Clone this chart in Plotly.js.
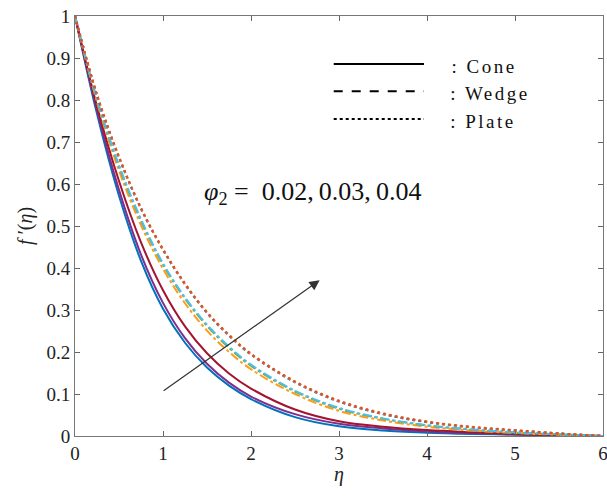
<!DOCTYPE html>
<html>
<head>
<meta charset="utf-8">
<script src="https://cdn.plot.ly/plotly-3.0.1.min.js"></script>
<style>html,body{margin:0;padding:0;background:#fff;}#chart{width:607px;height:496px;}</style>
</head>
<body>
<div id="chart"></div>
<script>
// eta grid
const eta = [0, 0.25, 0.5, 0.75, 1, 1.25, 1.5, 1.75, 2, 2.5, 3, 3.5, 4, 4.5, 5, 5.5, 6];

// Cone (solid)
const coneA = [1, 0.767, 0.572, 0.417, 0.303, 0.222, 0.163, 0.120, 0.088, 0.045, 0.023, 0.013, 0.008, 0.005, 0.003, 0.001, 0];
const coneB = [1, 0.775, 0.586, 0.432, 0.317, 0.233, 0.172, 0.127, 0.094, 0.052, 0.029, 0.018, 0.011, 0.007, 0.004, 0.002, 0];
const coneC = [1, 0.785, 0.607, 0.461, 0.347, 0.261, 0.197, 0.149, 0.113, 0.063, 0.035, 0.022, 0.014, 0.009, 0.005, 0.002, 0];

// Wedge (dash-dot)
const wedgeA = [1, 0.795, 0.632, 0.502, 0.398, 0.316, 0.251, 0.200, 0.159, 0.100, 0.060, 0.037, 0.022, 0.013, 0.007, 0.003, 0];
const wedgeB = [1, 0.800, 0.642, 0.513, 0.408, 0.327, 0.262, 0.210, 0.167, 0.106, 0.065, 0.041, 0.025, 0.015, 0.008, 0.004, 0];
const wedgeC = [1, 0.802, 0.645, 0.516, 0.411, 0.330, 0.265, 0.213, 0.170, 0.108, 0.067, 0.042, 0.026, 0.016, 0.009, 0.004, 0];

// Plate (dotted)
const plateA = [1, 0.811, 0.663, 0.541, 0.443, 0.361, 0.293, 0.239, 0.194, 0.128, 0.082, 0.052, 0.033, 0.021, 0.013, 0.006, 0];
const plateB = [1, 0.812, 0.664, 0.542, 0.444, 0.362, 0.294, 0.240, 0.195, 0.129, 0.083, 0.053, 0.034, 0.021, 0.013, 0.006, 0];
const plateC = [1, 0.813, 0.665, 0.543, 0.445, 0.363, 0.295, 0.241, 0.196, 0.130, 0.084, 0.054, 0.034, 0.022, 0.014, 0.006, 0];

const yTickVals = [0, 0.1, 0.2, 0.3, 0.4, 0.5, 0.6, 0.7, 0.8, 0.9, 1];
const yTickText = ["0", "0.1", "0.2", "0.3", "0.4", "0.5", "0.6", "0.7", "0.8", "0.9", "1"];
const xTickVals = [0, 1, 2, 3, 4, 5, 6];

const legendNames = [": Cone", ": Wedge", ": Plate"];
const phiLabel = "<i>φ</i><sub>2</sub> =&nbsp;&nbsp;0.02,&#8201;0.03,&#8201;0.04";
const xTitle = "<i>η</i>";
const yTitle = "<i>f</i> ′(<i>η</i>)";
const arrowFrom = [0.99, 0.105];
const arrowTo = [2.78, 0.371];

function tr(y, color, dash, w) {
  return {x: eta, y: y, type: 'scatter', mode: 'lines', showlegend: false,
          line: {color: color, width: w || 2, dash: dash, shape: 'spline', smoothing: 1}, hoverinfo: 'skip'};
}

const data = [
  tr(coneA, '#0072BD', 'solid'),
  tr(coneB, '#7E2F8E', 'solid'),
  tr(coneC, '#A2142F', 'solid'),
  tr(wedgeA, '#FF9A1F', 'dashdot'),
  tr(wedgeB, '#77AC30', 'dashdot'),
  tr(wedgeC, '#4DBEEE', 'dashdot'),
  tr(plateA, '#0072BD', 'dot', 2.2),
  tr(plateB, '#FF6A3D', 'dot', 2.2),
  tr(plateC, '#D95319', '2px,4px', 2.2)
];

const fam = 'Liberation Serif, Times New Roman, serif';
const font = {family: fam, color: '#222', size: 19};

const legY = [0.886, 0.821, 0.755];
const legDash = ['solid', 'dash', 'dot'];

const shapes = legY.map((y, i) => ({type: 'line', xref: 'paper', yref: 'paper', x0: 0.49, x1: 0.661, y0: y, y1: y,
  line: {color: '#000', width: 2, dash: legDash[i]}}));

const annotations = legendNames.map((t, i) => ({xref: 'paper', yref: 'paper', x: 0.724, y: legY[i] - 0.006,
  xanchor: 'left', yanchor: 'middle', showarrow: false, text: t, font: {size: 19, family: fam, color: '#111'}}));

annotations.push({xref: 'x', yref: 'y', x: 2.70, y: 0.579, xanchor: 'center', yanchor: 'middle', showarrow: false,
  text: phiLabel, font: {size: 26, family: fam, color: '#111'}});
annotations.push({xref: 'x', yref: 'y', axref: 'x', ayref: 'y', x: arrowTo[0], y: arrowTo[1], ax: arrowFrom[0], ay: arrowFrom[1],
  showarrow: true, arrowhead: 2, arrowsize: 1.7, arrowwidth: 1.2, arrowcolor: '#333', text: ''});
annotations.push({xref: 'paper', yref: 'paper', x: 0.5, y: -0.092, xanchor: 'center', yanchor: 'middle', showarrow: false,
  text: xTitle, font: {size: 20, family: fam, color: '#222'}});

const layout = {
  width: 607, height: 496,
  margin: {l: 75, r: 4, t: 16, b: 60},
  paper_bgcolor: '#fff', plot_bgcolor: '#fff',
  font: font,
  showlegend: false,
  xaxis: {range: [0, 6], tickvals: xTickVals, ticks: 'inside', ticklen: 5, tickcolor: '#666',
          showline: true, linecolor: '#777', linewidth: 1, mirror: 'ticks', showgrid: false, zeroline: false,
          ticklabeloverflow: 'allow',
          tickfont: {size: 19, family: fam, color: '#222'}},
  yaxis: {range: [0, 1], tickvals: yTickVals, ticktext: yTickText, ticks: 'inside', ticklen: 5, tickcolor: '#666',
          showline: true, linecolor: '#777', linewidth: 1, mirror: 'ticks', showgrid: false, zeroline: false,
          ticklabeloverflow: 'allow',
          tickfont: {size: 19, family: fam, color: '#222'},
          title: {text: yTitle, font: {size: 20, family: fam, color: '#222'}, standoff: 8}},
  shapes: shapes,
  annotations: annotations
};

Plotly.newPlot('chart', data, layout, {displayModeBar: false, staticPlot: true}).then(() => {
  document.querySelectorAll('.annotation-text').forEach(el => {
    if (el.textContent.trim().startsWith(':')) el.style.letterSpacing = '2.5px';
  });
});
</script>
</body>
</html>
